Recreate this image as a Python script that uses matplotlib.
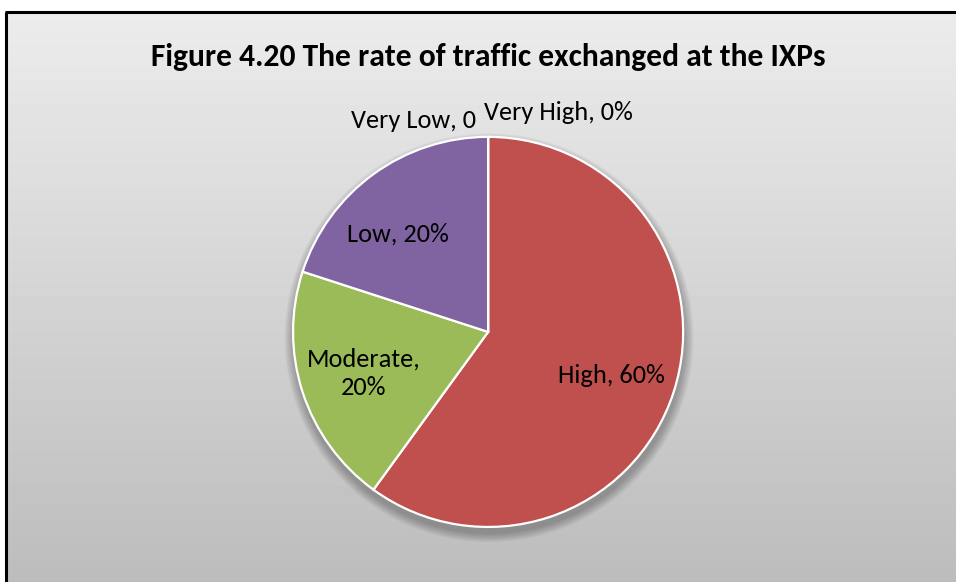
import numpy as np
import matplotlib

matplotlib.use("Agg")
import matplotlib.pyplot as plt  # noqa: E402
from matplotlib.patches import Circle  # noqa: E402

W, H = 956, 582

categories = ["Very High", "High", "Moderate", "Low", "Very Low"]
shares = [0, 60, 20, 20, 0]
label_texts = ["Very High, 0%", "High, 60%", "Moderate,\n20%", "Low, 20%", "Very Low, 0"]
colors = ["#4F81BD", "#C0504D", "#9BBB59", "#8064A2", "#4BACC6"]

plt.rcParams["font.family"] = ["Carlito", "Lato", "DejaVu Sans"]

# tiny pad so float rounding never drops the last pixel column
fig = plt.figure(figsize=((W + 0.2) / 100, (H + 0.2) / 100), dpi=100)
fig.patch.set_facecolor("white")

# background: chart area with vertical grey gradient and a black frame
bg = fig.add_axes([0, 0, 1, 1])
bg.axis("off")
grad = np.tile(np.linspace(0.925, 0.735, 600).reshape(-1, 1), (1, 4))
bg.imshow(grad, cmap="gray", vmin=0, vmax=1, aspect="auto",
          extent=(5, W + 20, H + 10, 12), interpolation="nearest")
bg.plot([5, W + 20], [12.5, 12.5], color="black", lw=2.2, solid_capstyle="butt")
bg.plot([5.5, 5.5], [12, H + 10], color="black", lw=2.2, solid_capstyle="butt")
bg.set_xlim(0, W)
bg.set_ylim(H, 0)

fig.text(488 / W, 1 - 57 / H, "Figure 4.20 The rate of traffic exchanged at the IXPs",
         ha="center", va="center", fontsize=22.7, fontweight="bold", color="black")

# pie
cx, cy, r = 488, 332, 195
ax = fig.add_axes([(cx - r) / W, (H - cy - r) / H, 2 * r / W, 2 * r / H])
ax.set_facecolor("none")

# soft drop shadow
for k in range(8):
    ax.add_patch(Circle((0.005, -0.03), 1.0 + 0.006 * (8 - k), color="black",
                        alpha=0.035, lw=0, zorder=0, clip_on=False))

wedges, _ = ax.pie(shares, colors=colors, startangle=90, counterclock=False,
                   radius=1.0, wedgeprops=dict(edgecolor="white", linewidth=1.6))
for w in wedges:
    w.set_zorder(2)
ax.set_xlim(-1, 1)
ax.set_ylim(-1, 1)
ax.set_aspect("equal")
ax.axis("off")

label_pos = {
    "Very High": (-0.02, 1.125, "left"),
    "High": (0.63, -0.225, "center"),
    "Moderate": (-0.64, -0.21, "center"),
    "Low": (-0.46, 0.505, "center"),
    "Very Low": (-0.06, 1.085, "right"),
}
for cat, txt in zip(categories, label_texts):
    x, y, ha = label_pos[cat]
    ax.text(x, y, txt, ha=ha, va="center", fontsize=19, color="black",
            linespacing=1.3, zorder=5)

fig.savefig("out.png", dpi=100)
